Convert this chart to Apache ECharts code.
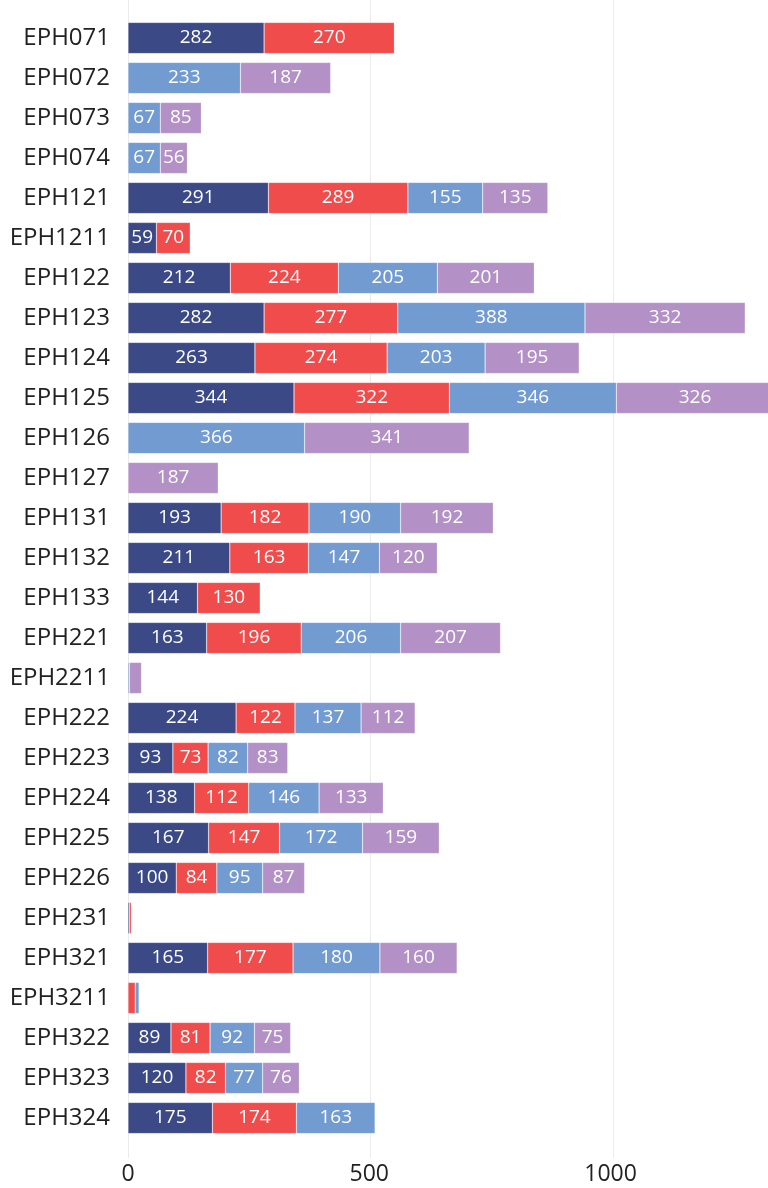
<!DOCTYPE html>
<html>
<head>
<meta charset="utf-8">
<script src="https://cdn.jsdelivr.net/npm/echarts@6/dist/echarts.min.js"></script>
<style>html,body{margin:0;padding:0;background:#fff}#c{width:768px;height:1188px}</style>
</head>
<body>
<div id="c"></div>
<script>
const categories = ["EPH071","EPH072","EPH073","EPH074","EPH121","EPH1211","EPH122","EPH123","EPH124","EPH125","EPH126","EPH127","EPH131","EPH132","EPH133","EPH221","EPH2211","EPH222","EPH223","EPH224","EPH225","EPH226","EPH231","EPH321","EPH3211","EPH322","EPH323","EPH324"];
const seriesA = [282,null,null,null,291,59,212,282,263,344,null,null,193,211,144,163,null,224,93,138,167,100,3,165,null,89,120,175];
const seriesB = [270,null,null,null,289,70,224,277,274,322,null,null,182,163,130,196,null,122,73,112,147,84,4,177,15,81,82,174];
const seriesC = [null,233,67,67,155,null,205,388,203,346,366,null,190,147,null,206,3,137,82,146,172,95,null,180,8,92,77,163];
const seriesD = [null,187,85,56,135,null,201,332,195,326,341,187,192,120,null,207,25,112,83,133,159,87,null,160,null,75,76,null];
const xTicks = [0,500,1000];

const colors = ['#3b4a86','#f04c4c','#729bd2','#b390c5'];
const font = '"Open Sans", "Noto Sans", sans-serif';
const chart = echarts.init(document.getElementById('c'), null, {renderer:'canvas'});
const xMax = 1320;
function mk(name, data, color){
  return {
    name, type:'bar', stack:'total', data, barCategoryGap:'22%',
    xAxisIndex:0, yAxisIndex:0, clip:false,
    itemStyle:{color, borderColor:'rgba(255,255,255,0.35)', borderWidth:0.6},
    label:{show:true, position:'inside', color:'#fff', fontFamily:font, fontSize:19,
      formatter:p=> (p.value!=null && p.value>=50) ? String(p.value) : ''},
    emphasis:{disabled:true}
  };
}
chart.setOption({
  animation:false,
  grid:[
    {left:128, right:-2, top:18, bottom:50, containLabel:false},
    {left:128, right:-2, top:0, bottom:30, containLabel:false, z:-1}
  ],
  xAxis:[
    {type:'value', gridIndex:0, min:0, max:xMax, interval:500,
      axisLine:{show:false}, axisTick:{show:false}, splitLine:{show:false},
      axisLabel:{fontFamily:font, fontSize:23, color:'#222', margin:25,
        formatter:v=> xTicks.includes(v) ? String(v) : ''}
    },
    {type:'value', gridIndex:1, min:0, max:xMax, interval:500,
      axisLine:{show:false}, axisTick:{show:false}, axisLabel:{show:false},
      splitLine:{show:true, lineStyle:{color:'#ebebeb', width:1}}
    }
  ],
  yAxis:[
    {type:'category', gridIndex:0, data:categories, inverse:true,
      axisLine:{show:false}, axisTick:{show:false},
      axisLabel:{fontFamily:font, fontSize:24, color:'#222', margin:18}
    },
    {type:'category', gridIndex:1, data:[''], show:false}
  ],
  series:[mk('A',seriesA,colors[0]), mk('B',seriesB,colors[1]), mk('C',seriesC,colors[2]), mk('D',seriesD,colors[3])]
});
</script>
</body>
</html>
